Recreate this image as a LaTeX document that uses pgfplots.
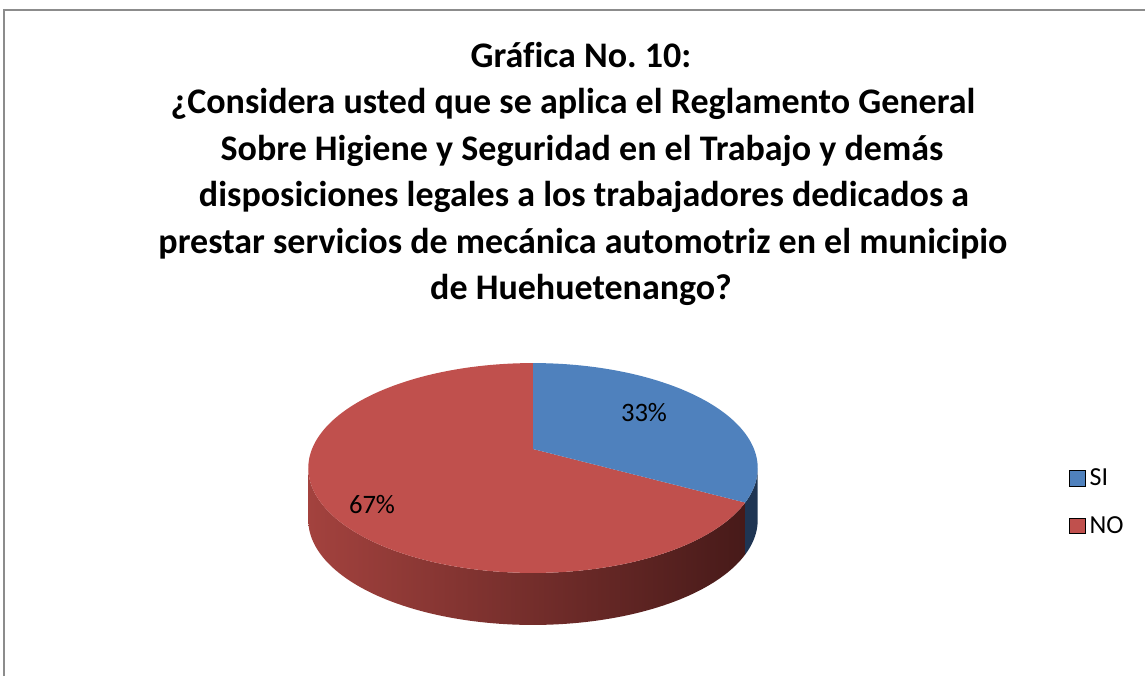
\documentclass[border=0pt]{standalone}
\usepackage{pgfplots}
\pgfplotsset{compat=1.18}
\usepackage{pgfplotstable}
\usepackage{fontspec}
\setmainfont{Carlito}[Ligatures=NoCommon]
\frenchspacing
\definecolor{siblue}{HTML}{4F81BD}
\definecolor{nored}{HTML}{C0504D}
\definecolor{siside}{HTML}{1F3553}
\definecolor{sideL}{HTML}{A3423E}
\definecolor{sideR}{HTML}{471A19}
\definecolor{frame}{HTML}{8C8C8C}
\pgfplotstableread{
label value
SI 33
NO 67
}\piedata
\begin{document}
\begin{tikzpicture}
\pgfplotstablegetelem{0}{value}\of\piedata \let\vSI\pgfplotsretval
\pgfplotstablegetelem{1}{value}\of\piedata \let\vNO\pgfplotsretval
\pgfmathsetmacro\aSI{360*\vSI/(\vSI+\vNO)}
\pgfmathsetmacro\sR{90+asin(0.181)}
\pgfmathsetmacro\sL{270-asin(0.181)}
\def\dep{52}
\begin{axis}[
  width=572.5pt, height=338pt, scale only axis,
  xmin=0, xmax=1145, ymin=0, ymax=676, y dir=reverse,
  axis lines=none, clip=true,
  declare function={
    PX(\q)=533+221*sin(\q)/(1+0.181*cos(\q));
    PY(\q)=449-101.5*cos(\q)/(1+0.181*cos(\q));
  },
  variable=\u,
  legend style={at={(axis cs:1069,464)}, anchor=north west, draw=none, fill=none,
    font=\fontsize{13}{15}\selectfont, row sep=10pt, inner sep=0pt},
  legend cell align=left,
  legend image code/.code={\fill[#1] (0pt,-3.8pt) rectangle (7.7pt,3.9pt);},
]
% full bounding box
\path (axis cs:0,0) rectangle (axis cs:1145,676);
% frame
\draw[frame, line width=1pt] (axis cs:3.5,676) -- (axis cs:3.5,10) -- (axis cs:1145,10);
% side NO (shaded)
\addplot[forget plot, draw=none, left color=sideL, right color=sideR, samples at={0,1,...,200}]
  ({PX(ifthenelse(\u<=100, \aSI+(\sL-\aSI)*\u/100, \sL-(\sL-\aSI)*(\u-101)/99))},
   {PY(ifthenelse(\u<=100, \aSI+(\sL-\aSI)*\u/100, \sL-(\sL-\aSI)*(\u-101)/99)) + ifthenelse(\u<=100,0,\dep)}) -- cycle;
% side SI
\addplot[forget plot, draw=none, fill=siside, samples at={0,1,...,40}]
  ({PX(ifthenelse(\u<=20, \sR+(\aSI-\sR)*\u/20, \aSI-(\aSI-\sR)*(\u-21)/19))},
   {PY(ifthenelse(\u<=20, \sR+(\aSI-\sR)*\u/20, \aSI-(\aSI-\sR)*(\u-21)/19)) + ifthenelse(\u<=20,0,\dep)}) -- cycle;
% top NO
\addplot[forget plot, draw=none, fill=nored, samples at={-1,0,1,...,150}]
  ({ifthenelse(\u<0, 533, PX(\aSI+(360-\aSI)*\u/150))},
   {ifthenelse(\u<0, 449, PY(\aSI+(360-\aSI)*\u/150))}) -- cycle;
% top SI
\addplot[forget plot, draw=none, fill=siblue, samples at={-1,0,1,...,80}]
  ({ifthenelse(\u<0, 533, PX(\aSI*\u/80))},
   {ifthenelse(\u<0, 449, PY(\aSI*\u/80))}) -- cycle;
% labels
\node[font=\fontsize{13.3}{15}\selectfont] at (axis cs:644,413) {33\%};
\node[font=\fontsize{13.3}{15}\selectfont] at (axis cs:372,505) {67\%};
% title
\begin{scope}[every node/.style={anchor=base, font=\bfseries\fontsize{18}{21}\selectfont}]
\node at (axis cs:581,67) {Gráfica No. 10:};
\node at (axis cs:573,113.5) {¿Considera usted que se aplica el Reglamento General};
\node at (axis cs:582,160) {Sobre Higiene y Seguridad en el Trabajo y demás};
\node at (axis cs:584,206.5) {disposiciones legales a los trabajadores dedicados a};
\node at (axis cs:583,253) {prestar servicios de mecánica automotriz en el municipio};
\node at (axis cs:581,299.5) {de Huehuetenango?};
\end{scope}
\addlegendimage{fill=siblue}\addlegendentry{SI}
\addlegendimage{fill=nored}\addlegendentry{NO}
\end{axis}
\end{tikzpicture}
\end{document}
